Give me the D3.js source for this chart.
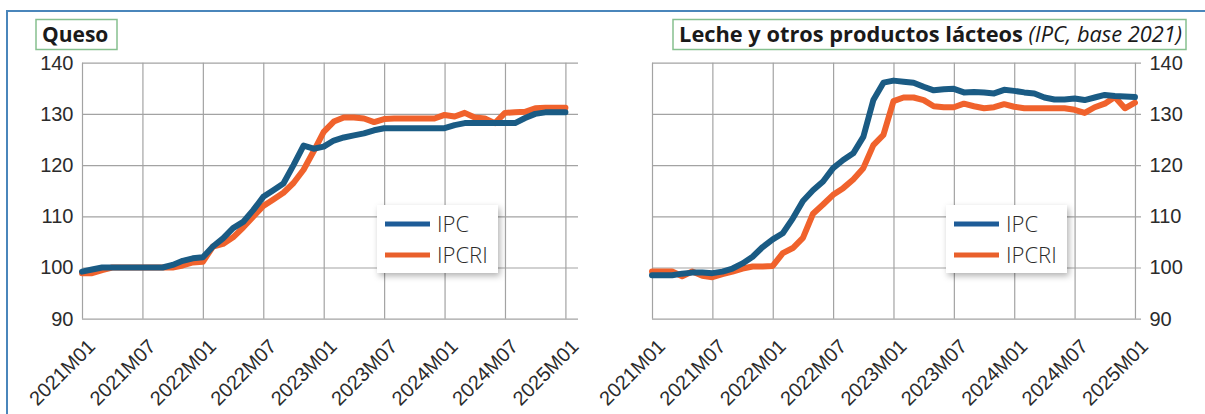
<!DOCTYPE html>
<html>
<head>
  <meta charset="utf-8">
  <script src="https://d3js.org/d3.v7.min.js"></script>
  <style>
    body { margin: 0; background: #fff; }
    svg { font-family: "Open Sans", "Liberation Sans", sans-serif; }
    .grid line { stroke: #a3a3a3; stroke-width: 1.2; }
    .grid path { display: none; }
    .tick text { fill: #2b2b2b; font-weight: 300; }
  </style>
</head>
<body>
<script>
  // months 2021M01 .. 2025M01, index 0..48
  var tickIdx = [0, 6, 12, 18, 24, 30, 36, 42, 48];
  var tickLabels = ["2021M01", "2021M07", "2022M01", "2022M07", "2023M01",
                    "2023M07", "2024M01", "2024M07", "2025M01"];
  var yTicks = [90, 100, 110, 120, 130, 140];

  // Queso
  var quesoIPC = [99.2, 99.6, 100, 100, 100, 100, 100, 100, 100, 100.5,
                  101.3, 101.8, 102, 104.1, 105.7, 107.7, 108.9, 111.2, 113.8, 115.1,
                  116.4, 120, 123.8, 123.2, 123.6, 124.8, 125.4, 125.8, 126.2, 126.8,
                  127.2, 127.2, 127.2, 127.2, 127.2, 127.2, 127.2, 127.8, 128.2, 128.2,
                  128.2, 128.2, 128.2, 128.2, 129.2, 130, 130.3, 130.3, 130.3];
  var quesoIPCRI = [98.9, 98.9, 99.5, 100, 100, 100, 100, 100, 100, 100,
                    100.4, 101, 101.1, 104.1, 104.6, 105.9, 107.8, 109.9, 112, 113.3,
                    114.6, 116.5, 119.1, 122.7, 126.5, 128.5, 129.3, 129.3, 129.1, 128.4,
                    129, 129.1, 129.1, 129.1, 129.1, 129.1, 129.8, 129.5, 130.2, 129.3,
                    129.1, 128.2, 130.2, 130.3, 130.4, 131.1, 131.2, 131.2, 131.2];

  // Leche y otros productos lacteos
  var lecheIPC = [98.5, 98.5, 98.5, 98.8, 99, 99, 98.9, 99.2, 99.8, 100.8,
                  102.1, 104, 105.5, 106.7, 109.6, 113, 115.1, 116.8, 119.4, 121,
                  122.3, 125.5, 132.7, 136.1, 136.5, 136.3, 136.1, 135.3, 134.6, 134.8,
                  134.9, 134.2, 134.3, 134.2, 134, 134.7, 134.5, 134.2, 134, 133.2,
                  132.8, 132.8, 133, 132.7, 133.2, 133.7, 133.5, 133.4, 133.3];
  var lecheIPCRI = [99.2, 99.2, 99.2, 98.3, 99.2, 98.4, 98.1, 98.7, 99.2, 99.8,
                    100.2, 100.2, 100.3, 102.8, 103.8, 105.8, 110.5, 112.3, 114.2, 115.5,
                    117.2, 119.4, 123.9, 125.9, 132.5, 133.2, 133.2, 132.7, 131.5, 131.3,
                    131.3, 132, 131.5, 131.1, 131.3, 131.9, 131.4, 131.1, 131.1, 131.1,
                    131.1, 131.1, 130.8, 130.2, 131.3, 132, 133.3, 131.1, 132.2];

  var seriesNames = ["IPC", "IPCRI"];
  var colors = ["#1a5b84", "#f0622c"];
  var legendColors = ["#1e5c98", "#e9602b"];

  var W = 1205, H = 414;
  var svg = d3.select("body").append("svg").attr("width", W).attr("height", H);

  var defs = svg.append("defs");
  defs.append("filter").attr("id", "shadow")
      .attr("x", "-20%").attr("y", "-20%").attr("width", "150%").attr("height", "160%")
    .append("feDropShadow")
      .attr("dx", 2).attr("dy", 3).attr("stdDeviation", 3)
      .attr("flood-color", "#000").attr("flood-opacity", 0.3);

  // frame
  svg.append("path")
    .attr("d", "M7," + H + "V11H" + W)
    .attr("fill", "none").attr("stroke", "#4a86bb").attr("stroke-width", 2);

  var plotTop = 62.7, plotBottom = 318.7;

  function panel(o) {
    var g = svg.append("g");
    var x = d3.scaleLinear().domain([0, o.xMax]).range([o.x0, o.x1]);
    var y = d3.scaleLinear().domain([90, 140]).range([plotBottom, plotTop]);
    var plotW = o.x1 - o.x0, plotH = plotBottom - plotTop;

    // horizontal grid + y labels
    var yAxis = (o.side === "left" ? d3.axisLeft(y) : d3.axisRight(y))
      .tickValues(yTicks).tickSize(-plotW).tickPadding(8.5);
    g.append("g").attr("class", "grid")
      .attr("transform", "translate(" + (o.side === "left" ? o.x0 : o.x1) + ",0)")
      .call(yAxis)
      .selectAll("text").style("font-size", "20px");

    // vertical grid + x labels
    var xAxis = d3.axisBottom(x).tickValues(tickIdx)
      .tickFormat(function (d, i) { return tickLabels[i]; })
      .tickSize(-plotH).tickSizeOuter(0);
    g.append("g").attr("class", "grid")
      .attr("transform", "translate(0," + plotBottom + ")")
      .call(xAxis)
      .selectAll("text")
        .style("font-size", "20px")
        .attr("text-anchor", "end")
        .attr("x", 0).attr("y", 0).attr("dy", "0.35em")
        .attr("transform", "translate(9,24) rotate(-45)");

    var line = d3.line()
      .x(function (d, i) { return x(i); })
      .y(function (d) { return y(d); });

    [o.ipcri, o.ipc].forEach(function (s, k) {
      g.append("path").datum(s)
        .attr("d", line)
        .attr("fill", "none")
        .attr("stroke", colors[1 - k])
        .attr("stroke-width", 6)
        .attr("stroke-linejoin", "round")
        .attr("stroke-linecap", "round");
    });

    // legend
    var lg = g.append("g").attr("transform", "translate(" + o.lx + ",205)");
    lg.append("rect").attr("width", 121).attr("height", 68)
      .attr("fill", "#fff").attr("filter", "url(#shadow)");
    seriesNames.forEach(function (n, k) {
      lg.append("line").attr("x1", 8).attr("x2", 53)
        .attr("y1", 19 + k * 31).attr("y2", 19 + k * 31)
        .attr("stroke", legendColors[k]).attr("stroke-width", 5);
      lg.append("text").attr("x", 60).attr("y", 19 + k * 31).attr("dy", "0.36em")
        .style("font-size", "22px").style("font-weight", 300)
        .style("fill", "#2b2b2b").text(n);
    });

    // title
    var tg = g.append("g");
    tg.append("rect").attr("x", o.tx0).attr("y", 19.5)
      .attr("width", o.tx1 - o.tx0).attr("height", 30)
      .attr("fill", "#fff").attr("stroke", "#86c08f").attr("stroke-width", 1.5);
    var t = tg.append("text").attr("y", 42).style("font-size", o.tsize + "px").style("fill", "#1a1a1a");
    if (o.side === "left") {
      t.attr("x", o.tx0 + 6);
    } else {
      t.attr("x", o.tx1 - 4).attr("text-anchor", "end");
    }
    t.append("tspan").style("font-weight", "bold").text(o.title);
    if (o.sub) t.append("tspan").style("font-style", "italic").text(" " + o.sub);
  }

  panel({
    side: "left", x0: 82, x1: 578, xMax: 49.25,
    ipc: quesoIPC, ipcri: quesoIPCRI, lx: 377,
    title: "Queso", tx0: 36, tx1: 117, tsize: 21
  });
  panel({
    side: "right", x0: 652, x1: 1141, xMax: 48.6,
    ipc: lecheIPC, ipcri: lecheIPCRI, lx: 946,
    title: "Leche y otros productos lácteos", sub: "(IPC, base 2021)", tx0: 673, tx1: 1186, tsize: 21.8
  });
</script>
</body>
</html>
